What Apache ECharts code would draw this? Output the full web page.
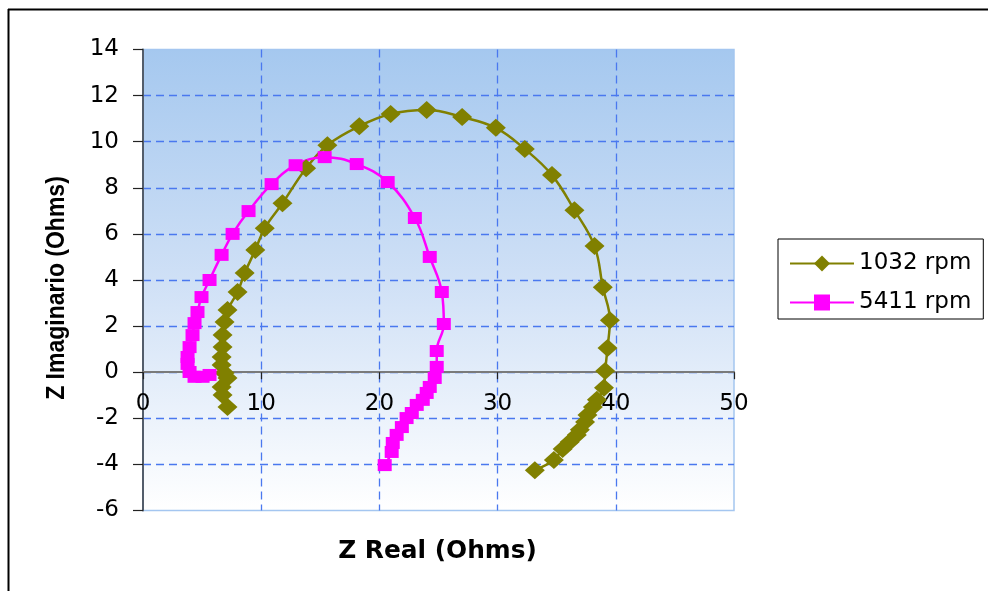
<!DOCTYPE html>
<html>
<head>
<meta charset="utf-8">
<title>Z Real vs Z Imaginario</title>
<script src="https://cdn.jsdelivr.net/npm/echarts@6/dist/echarts.min.js"></script>
<style>
  html, body { margin: 0; padding: 0; background: #ffffff; }
  #chart { width: 988px; height: 591px; }
</style>
</head>
<body>
<div id="chart"></div>
<script>
// Nyquist data: [Z real, Z imaginario] in Ohms, in measurement order
const seriesNames = ['1032 rpm', '5411 rpm'];

const zReal1032 = [7.15, 6.73, 6.65, 7.15, 6.9, 6.65, 6.65, 6.73, 6.73, 6.9, 7.15, 8.0, 8.6, 9.5, 10.3,
  11.8, 13.8, 15.6, 18.3, 20.95, 24.0, 27.0, 29.85, 32.3, 34.6, 36.5, 38.2, 38.9, 39.5, 39.3, 39.1,
  39.0, 38.4, 38.06, 37.6, 37.4, 36.96, 36.7, 36.1, 35.5, 34.76, 33.15];
const zImag1032 = [-1.51, -0.99, -0.64, -0.25, -0.03, 0.31, 0.66, 1.09, 1.61, 2.18, 2.7, 3.48, 4.3, 5.3, 6.25,
  7.33, 8.85, 9.85, 10.67, 11.2, 11.37, 11.07, 10.6, 9.68, 8.55, 7.03, 5.47, 3.69, 2.25, 1.05, 0.05,
  -0.68, -1.2, -1.51, -1.86, -2.16, -2.5, -2.72, -3.03, -3.33, -3.81, -4.25];

const zReal5411 = [5.63, 5.04, 4.36, 3.94, 3.77, 3.77, 3.94, 4.19, 4.36, 4.61, 4.95, 5.63, 6.65, 7.58, 8.93,
  10.88, 12.91, 15.37, 18.08, 20.7, 23.0, 24.26, 25.28, 25.45, 24.85, 24.85, 24.68, 24.26, 24.0, 23.67,
  23.16, 22.74, 22.3, 21.9, 21.46, 21.13, 21.04, 20.45];
const zImag5411 = [-0.12, -0.2, -0.2, 0.01, 0.36, 0.66, 1.09, 1.61, 2.13, 2.61, 3.26, 4.0, 5.09, 6.0, 6.99,
  8.16, 8.98, 9.33, 9.03, 8.25, 6.69, 5.0, 3.48, 2.09, 0.92, 0.23, -0.25, -0.64, -0.9, -1.2,
  -1.42, -1.77, -1.99, -2.38, -2.72, -3.07, -3.46, -4.03];

// Axis ranges and tick steps
const xRange = { min: 0, max: 50, step: 10 };
const yRange = { min: -6, max: 14, step: 2 };

const xTitle = 'Z Real (Ohms)';
const yTitle = 'Z Imaginario (Ohms)';

function pairs(xs, ys) {
  return xs.map((x, i) => [x, ys[i]]);
}

// Plot box in pixels
const gridTop = 49.5;
const gridBottom = 80.5;
const chartHeight = 591;
const plotHeight = chartHeight - gridTop - gridBottom;
// Lift the x axis (line, ticks, labels) from the plot bottom up to the Z imaginario = 0 line
const xAxisLift = -plotHeight * (0 - yRange.min) / (yRange.max - yRange.min);

const tickFont = 'DejaVu Sans';
const gridDash = { color: '#4a78ef', width: 1.3, type: [8, 5] };

const chart = echarts.init(document.getElementById('chart'), null, { renderer: 'canvas' });

chart.setOption({
  animation: false,
  backgroundColor: '#ffffff',
  grid: {
    left: 143,
    right: 254,
    top: gridTop,
    bottom: gridBottom,
    show: true,
    borderColor: '#a4c6f0',
    borderWidth: 1.5,
    backgroundColor: {
      type: 'linear', x: 0, y: 0, x2: 0, y2: 1,
      colorStops: [
        { offset: 0, color: '#a5c8ef' },
        { offset: 0.5, color: '#cfe0f6' },
        { offset: 1, color: '#ffffff' }
      ]
    }
  },
  xAxis: {
    type: 'value',
    min: xRange.min,
    max: xRange.max,
    interval: xRange.step,
    position: 'bottom',
    offset: xAxisLift,
    axisLine: { show: true, onZero: false, lineStyle: { color: '#7a7a7a', width: 2 } },
    axisTick: { show: true, inside: false, length: 7, lineStyle: { color: '#222', width: 1.2 } },
    axisLabel: { color: '#000', fontFamily: tickFont, fontSize: 23, margin: 20 },
    splitLine: { show: true, showMinLine: false, showMaxLine: false, lineStyle: gridDash }
  },
  yAxis: {
    type: 'value',
    min: yRange.min,
    max: yRange.max,
    interval: yRange.step,
    axisLine: { show: true, onZero: false, lineStyle: { color: '#535d6b', width: 2 } },
    axisTick: { show: true, inside: false, length: 10, lineStyle: { color: '#222', width: 1.2 } },
    axisLabel: { color: '#000', fontFamily: tickFont, fontSize: 23, margin: 24 },
    splitLine: { show: true, showMinLine: false, showMaxLine: false, lineStyle: gridDash }
  },
  legend: {
    orient: 'vertical',
    left: 778,
    top: 239,
    padding: [13, 12, 5, 11],
    itemGap: 16,
    itemWidth: 64,
    itemHeight: 20,
    borderColor: '#000',
    borderWidth: 1,
    backgroundColor: '#ffffff',
    textStyle: { color: '#000', fontFamily: tickFont, fontSize: 23 },
    data: seriesNames
  },
  series: [
    {
      name: seriesNames[0],
      type: 'line',
      data: pairs(zReal1032, zImag1032),
      smooth: 0.4,
      symbol: 'diamond',
      symbolSize: [20, 18],
      lineStyle: { color: '#808000', width: 2.5 },
      itemStyle: { color: '#808000' }
    },
    {
      name: seriesNames[1],
      type: 'line',
      data: pairs(zReal5411, zImag5411),
      smooth: 0.4,
      symbol: 'rect',
      symbolSize: [14, 12],
      lineStyle: { color: '#ff00ff', width: 2.5 },
      itemStyle: { color: '#ff00ff' }
    }
  ],
  graphic: [
    // outer frame (top and left edges)
    { type: 'line', shape: { x1: 8, y1: 9.5, x2: 988, y2: 9.5 }, style: { stroke: '#000', lineWidth: 2 } },
    { type: 'line', shape: { x1: 8.5, y1: 9, x2: 8.5, y2: 591 }, style: { stroke: '#000', lineWidth: 2 } },
    // axis titles
    {
      type: 'text',
      x: 437.5, y: 552,
      scaleX: 1.035,
      style: {
        text: xTitle,
        font: 'bold 24px "DejaVu Sans"',
        fill: '#000',
        align: 'center',
        verticalAlign: 'middle'
      }
    },
    {
      type: 'text',
      x: 57, y: 288,
      rotation: Math.PI / 2,
      scaleY: 1.15,
      style: {
        text: yTitle,
        font: 'bold 23px "Liberation Sans"',
        fill: '#000',
        align: 'center',
        verticalAlign: 'middle'
      }
    }
  ]
});
</script>
</body>
</html>
